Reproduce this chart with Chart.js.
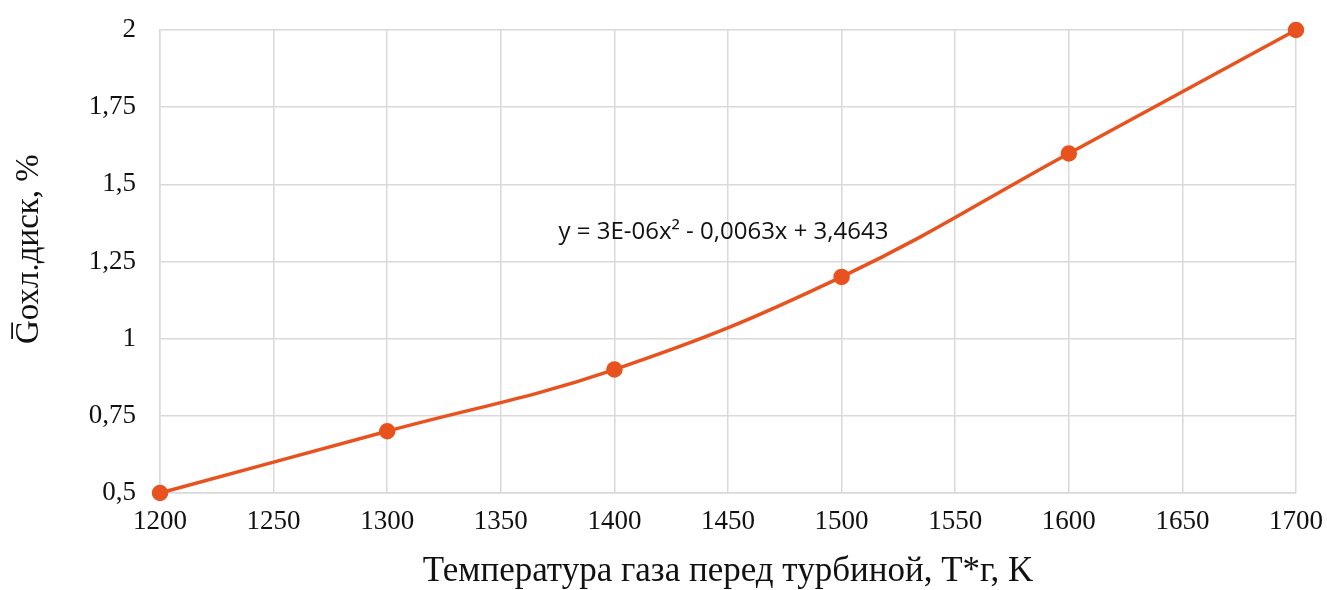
<!DOCTYPE html>
<html><head><meta charset="utf-8">
<script src="https://cdn.jsdelivr.net/npm/chart.js@4/dist/chart.umd.min.js"></script>
<style>html,body{margin:0;padding:0;background:#fff}#w{width:1327px;height:590px}</style>
</head><body><div id="w"><canvas id="c"></canvas></div>
<script>
const temps = [1200, 1300, 1400, 1500, 1600, 1700];
const gCool = [0.5, 0.7, 0.9, 1.2, 1.6, 2.0];
const xTicks = [1200, 1250, 1300, 1350, 1400, 1450, 1500, 1550, 1600, 1650, 1700];
const yTicks = [0.5, 0.75, 1, 1.25, 1.5, 1.75, 2];
const equation = 'y = 3E-06x² - 0,0063x + 3,4643';
const eqPos = {x: 1448, y: 1.345};
const xTitle = 'Температура газа перед турбиной, T*г, K';
const yTitle = '\u00A0\u00A0\u00A0G̅охл.диск, %';

const eqPlugin = {
  id: 'eq',
  afterDatasetsDraw(chart) {
    const {ctx, scales} = chart;
    ctx.save();
    ctx.font = '24px "Open Sans", "Liberation Sans", sans-serif';
    ctx.fillStyle = '#111';
    ctx.textAlign = 'center';
    ctx.textBaseline = 'middle';
    ctx.fillText(equation, scales.x.getPixelForValue(eqPos.x), scales.y.getPixelForValue(eqPos.y));
    ctx.restore();
  }
};

const serif = '"Liberation Serif", "DejaVu Serif", serif';

new Chart(document.getElementById('c'), {
  type: 'line',
  data: { datasets: [{
    data: temps.map((t, i) => ({x: t, y: gCool[i]})),
    borderColor: '#E8521E', backgroundColor: '#E8521E',
    borderWidth: 3.5, pointRadius: 6.5, pointHoverRadius: 6.5,
    tension: 0.4, fill: false, clip: false
  }]},
  options: {
    responsive: true, maintainAspectRatio: false, animation: false,
    layout: { padding: {top: 30, right: 31, left: 0, bottom: 0} },
    plugins: { legend: {display: false}, tooltip: {enabled: false} },
    scales: {
      x: {
        type: 'linear', min: 1200, max: 1700,
        afterBuildTicks: s => { s.ticks = xTicks.map(v => ({value: v})); },
        afterFit: s => { s.height = 97; s.paddingLeft = 0; s.paddingRight = 0; },
        grid: { color: '#d9d9d9', lineWidth: 1.5, drawTicks: false },
        border: { color: '#d9d9d9', width: 1.5 },
        ticks: { color: '#111', padding: 13, maxRotation: 0,
          font: {family: serif, size: 27},
          callback: v => String(v) },
        title: { display: true, text: xTitle, color: '#111', padding: {top: 0, bottom: -3},
          font: {family: serif, size: 35} }
      },
      y: {
        min: 0.5, max: 2,
        afterBuildTicks: s => { s.ticks = yTicks.map(v => ({value: v})); },
        afterFit: s => { s.width = 160; s.paddingTop = 0; s.paddingBottom = 0; },
        grid: { color: '#d9d9d9', lineWidth: 1.5, drawTicks: false },
        border: { color: '#d9d9d9', width: 1.5 },
        ticks: { color: '#111', padding: 24,
          font: {family: serif, size: 27},
          callback: v => String(v).replace('.', ',') },
        title: { display: true, text: yTitle, color: '#111', padding: {top: 10, bottom: 0},
          font: {family: serif, size: 33} }
      }
    }
  },
  plugins: [eqPlugin]
});
</script></body></html>
